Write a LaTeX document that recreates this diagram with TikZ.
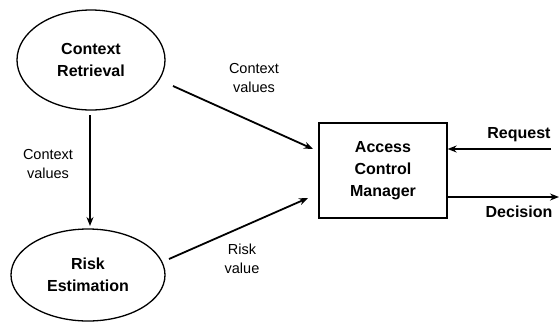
\documentclass[tikz,border=0pt]{standalone}
\usepackage{fontspec}
\setmainfont{Liberation Sans}
\usetikzlibrary{shapes.geometric,arrows.meta}
\begin{document}
\begin{tikzpicture}[x=1pt,y=-1pt,
  ell/.style={draw,ellipse,line width=1.3pt,minimum width=#1,align=center,font=\fontsize{16}{22}\selectfont\bfseries,inner sep=0pt},
  boxn/.style={draw,rectangle,line width=1.3pt,minimum width=128pt,minimum height=95pt,align=center,font=\fontsize{16}{22}\selectfont\bfseries},
  conn/.style={line width=1.8pt,-{Stealth[length=9pt,width=7pt]}},
  lbl/.style={align=center,font=\fontsize{14.5}{19}\selectfont},
  blbl/.style={font=\fontsize{16}{22}\selectfont\bfseries}]
\useasboundingbox (0,0) rectangle (559,322);
\node[ell=148pt,minimum height=100pt] (cr) at (91,60) {Context\\Retrieval};
\node[ell=154pt,minimum height=92pt] (re) at (88,275) {Risk\\Estimation};
\node[boxn] (acm) at (383,170.5) {Access\\Control\\Manager};
\coordinate (rq) at (551,149);
\coordinate (dc) at (559,197);
\coordinate (cs) at (173,86);
\coordinate (rs) at (169,259);
\coordinate (ct) at (313,149);
\coordinate (rt) at (308,198);
\coordinate (vs) at (90,115);
\coordinate (vt) at (90,226);
\draw[conn] (vs) -- (vt);
\draw[conn] (cs) -- (ct);
\draw[conn] (rs) -- (rt);
\draw[conn] (rq) -- (acm.east |- rq);
\draw[conn] (acm.east |- dc) -- (dc);
\node[lbl] (l1) at (254,78) {Context\\values};
\node[lbl] (l2) at (48,164) {Context\\values};
\node[lbl] (l3) at (242,259) {Risk\\value};
\node[blbl] (l4) at (519,135) {Request};
\node[blbl] (l5) at (519,212) {Decision};
\end{tikzpicture}
\end{document}
